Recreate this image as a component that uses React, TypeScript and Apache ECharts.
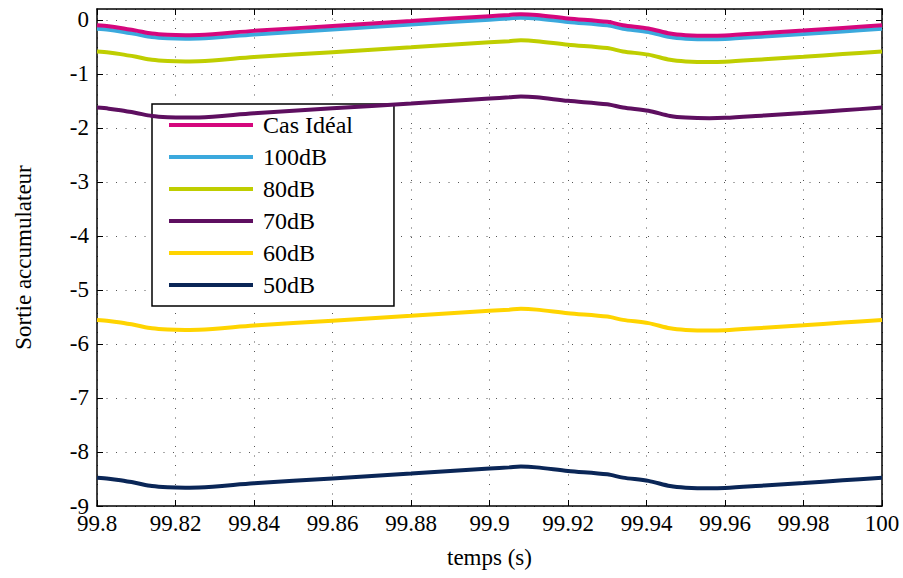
import React, { useEffect, useRef } from "react";
import * as echarts from "echarts";

const timeValues = [99.8, 99.803, 99.806, 99.81, 99.814, 99.818, 99.8225, 99.826, 99.84, 99.86, 99.88, 99.9, 99.905, 99.908, 99.912, 99.92, 99.93, 99.934, 99.9405, 99.946, 99.95, 99.956, 99.96, 99.97, 99.98, 99.99, 100];

const casIdeal = [-0.10, -0.12, -0.15, -0.20, -0.255, -0.278, -0.285, -0.282, -0.205, -0.114, -0.023, 0.068, 0.09, 0.105, 0.09, 0.025, -0.038, -0.10, -0.16, -0.255, -0.285, -0.297, -0.29, -0.245, -0.20, -0.15, -0.10];
const db100 = [-0.165, -0.185, -0.215, -0.265, -0.32, -0.343, -0.35, -0.347, -0.27, -0.179, -0.088, 0.003, 0.025, 0.04, 0.025, -0.04, -0.103, -0.165, -0.225, -0.32, -0.35, -0.362, -0.355, -0.31, -0.265, -0.215, -0.165];
const db80 = [-0.585, -0.605, -0.635, -0.685, -0.74, -0.763, -0.77, -0.767, -0.69, -0.599, -0.508, -0.417, -0.395, -0.38, -0.395, -0.46, -0.523, -0.585, -0.645, -0.74, -0.77, -0.782, -0.775, -0.73, -0.685, -0.635, -0.585];
const db70 = [-1.625, -1.645, -1.675, -1.725, -1.78, -1.803, -1.81, -1.807, -1.73, -1.639, -1.548, -1.457, -1.435, -1.42, -1.435, -1.5, -1.563, -1.625, -1.685, -1.78, -1.81, -1.822, -1.815, -1.77, -1.725, -1.675, -1.625];
const db60 = [-5.555, -5.575, -5.605, -5.655, -5.71, -5.733, -5.74, -5.737, -5.66, -5.569, -5.478, -5.387, -5.365, -5.35, -5.365, -5.43, -5.493, -5.555, -5.615, -5.71, -5.74, -5.752, -5.745, -5.7, -5.655, -5.605, -5.555];
const db50 = [-8.475, -8.495, -8.525, -8.575, -8.63, -8.653, -8.66, -8.657, -8.58, -8.489, -8.398, -8.307, -8.285, -8.27, -8.285, -8.35, -8.413, -8.475, -8.535, -8.63, -8.66, -8.672, -8.665, -8.62, -8.575, -8.525, -8.475];

const seriesNames = ["Cas Idéal", "100dB", "80dB", "70dB", "60dB", "50dB"];
const seriesValues = [casIdeal, db100, db80, db70, db60, db50];
const seriesColors = ["#d5077d", "#3ba9dd", "#bfce00", "#5e0f60", "#ffd400", "#0a2657"];

const FONT = "Liberation Serif";

export default function App() {
  const ref = useRef<HTMLDivElement>(null);
  useEffect(() => {
    document.body.style.margin = "0";
    const chart = echarts.init(ref.current!, null, { renderer: "svg" });
    const gridLine = { show: true, lineStyle: { color: "#555", width: 1, type: [1, 8.5] as any } };
    const tickStyle = { show: true, inside: true, length: 6, lineStyle: { color: "#000", width: 1 } };
    const lineStyleAxis = { show: true, onZero: false, lineStyle: { color: "#000", width: 1.5 } };
    const labelText = { fontFamily: FONT, fontSize: 23, color: "#000" };
    chart.setOption({
      animation: false,
      backgroundColor: "#fff",
      textStyle: { fontFamily: FONT, color: "#000" },
      grid: { left: 97, right: 21, top: 9, bottom: 72, containLabel: false },
      legend: {
        orient: "vertical",
        left: 152,
        top: 104,
        icon: "rect",
        itemWidth: 84,
        itemHeight: 4,
        itemGap: 8,
        padding: [9, 41, 9, 17],
        backgroundColor: "#fff",
        borderColor: "#000",
        borderWidth: 1.5,
        borderRadius: 0,
        textStyle: { fontFamily: FONT, fontSize: 24, color: "#000", padding: [0, 0, 0, 5], lineHeight: 24 },
        data: seriesNames,
      },
      xAxis: [
        {
          type: "value",
          min: 99.8,
          max: 100,
          interval: 0.02,
          name: "temps (s)",
          nameLocation: "middle",
          nameGap: 40,
          nameTextStyle: { ...labelText },
          axisLine: lineStyleAxis,
          axisTick: tickStyle,
          axisLabel: {
            ...labelText,
            margin: 6,
            formatter: (v: number) => String(parseFloat(v.toFixed(2))),
          },
          splitLine: gridLine,
        },
        {
          type: "value",
          position: "top",
          min: 99.8,
          max: 100,
          interval: 0.02,
          axisLine: lineStyleAxis,
          axisTick: tickStyle,
          axisLabel: { show: false },
          splitLine: { show: false },
        },
      ],
      yAxis: [
        {
          type: "value",
          min: -9,
          max: 0.2,
          interval: 1,
          name: "Sortie accumulateur",
          nameLocation: "middle",
          nameGap: 62,
          nameTextStyle: { ...labelText },
          axisLine: lineStyleAxis,
          axisTick: tickStyle,
          axisLabel: {
            ...labelText,
            margin: 8,
            showMaxLabel: false,
            formatter: (v: number) => String(Math.round(v)),
          },
          splitLine: gridLine,
        },
        {
          type: "value",
          position: "right",
          min: -9,
          max: 0.2,
          interval: 1,
          axisLine: lineStyleAxis,
          axisTick: tickStyle,
          axisLabel: { show: false },
          splitLine: { show: false },
        },
      ],
      series: seriesNames.map((name, i) => ({
        name,
        type: "line",
        xAxisIndex: 0,
        yAxisIndex: 0,
        symbol: "none",
        smooth: 0.3,
        color: seriesColors[i],
        itemStyle: { color: seriesColors[i] },
        lineStyle: { color: seriesColors[i], width: 4 },
        data: timeValues.map((t, j) => [t, seriesValues[i][j]]),
        z: 10 - i,
      })),
    });
    return () => chart.dispose();
  }, []);
  return <div ref={ref} style={{ width: 903, height: 578 }} />;
}
